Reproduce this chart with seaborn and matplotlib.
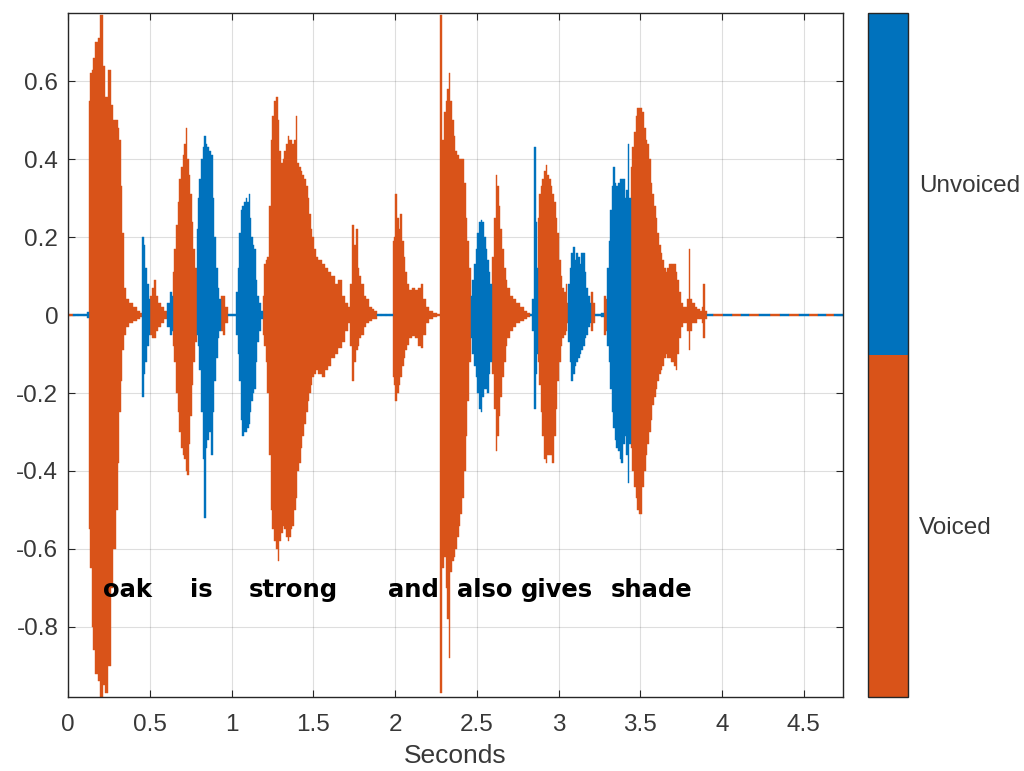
import numpy as np
import matplotlib
matplotlib.use("Agg")
import matplotlib as mpl
import matplotlib.pyplot as plt
from matplotlib.colors import ListedColormap, Normalize
import seaborn as sns

# envelope of the waveform: (seconds, upper peak, lower peak)
lead_v = [(0.000, 0.002, -0.002), (0.020, 0.002, -0.002)]
lead_u = [(0.045, 0.002, -0.002), (0.080, 0.002, -0.002), (0.110, 0.003, -0.003), (0.125, 0.008, -0.008)]
oak = [(0.133, 0.55, -0.55), (0.140, 0.62, -0.65), (0.150, 0.63, -0.80), (0.160, 0.66, -0.86),
       (0.175, 0.70, -0.92), (0.190, 0.71, -0.94), (0.205, 0.77, -0.98), (0.220, 0.64, -0.95),
       (0.237, 0.56, -0.97), (0.257, 0.63, -0.90), (0.270, 0.54, -0.70), (0.285, 0.50, -0.60),
       (0.298, 0.50, -0.50), (0.308, 0.48, -0.38), (0.318, 0.45, -0.25), (0.328, 0.33, -0.17),
       (0.338, 0.21, -0.09), (0.349, 0.07, -0.05), (0.365, 0.04, -0.03), (0.385, 0.03, -0.02),
       (0.410, 0.02, -0.015), (0.435, 0.01, -0.01), (0.450, 0.006, -0.006)]
oak_k = [(0.458, 0.20, -0.21), (0.468, 0.18, -0.15), (0.478, 0.12, -0.12), (0.490, 0.08, -0.08),
         (0.500, 0.04, -0.05)]
oak_tail = [(0.508, 0.05, -0.05), (0.520, 0.07, -0.06), (0.532, 0.09, -0.06), (0.545, 0.05, -0.04),
            (0.560, 0.03, -0.03), (0.580, 0.02, -0.02), (0.600, 0.01, -0.01)]
is_onset = [(0.615, 0.03, -0.03), (0.630, 0.06, -0.05), (0.640, 0.05, -0.04)]
is_vowel = [(0.645, 0.11, -0.08), (0.655, 0.17, -0.12), (0.665, 0.23, -0.20), (0.675, 0.29, -0.25),
            (0.686, 0.35, -0.30), (0.696, 0.38, -0.34), (0.706, 0.41, -0.36), (0.716, 0.44, -0.37),
            (0.724, 0.48, -0.40), (0.732, 0.40, -0.41), (0.742, 0.36, -0.33), (0.752, 0.31, -0.26),
            (0.762, 0.24, -0.18), (0.772, 0.17, -0.12), (0.782, 0.12, -0.07)]
is_s = [(0.790, 0.22, -0.05), (0.797, 0.30, -0.08), (0.807, 0.35, -0.14), (0.818, 0.40, -0.25),
        (0.828, 0.43, -0.37), (0.838, 0.46, -0.52), (0.848, 0.44, -0.34), (0.858, 0.43, -0.32),
        (0.869, 0.42, -0.30), (0.879, 0.41, -0.36), (0.889, 0.30, -0.25), (0.899, 0.20, -0.17),
        (0.909, 0.12, -0.11), (0.920, 0.07, -0.06), (0.930, 0.04, -0.04)]
is_tail = [(0.940, 0.05, -0.04), (0.955, 0.05, -0.05), (0.968, 0.02, -0.02)]
gap_1 = [(0.985, 0.002, -0.002), (1.010, 0.002, -0.002), (1.025, 0.003, -0.003)]
strong_st = [(1.035, 0.06, -0.05), (1.042, 0.12, -0.10), (1.052, 0.21, -0.17), (1.062, 0.27, -0.27),
             (1.072, 0.28, -0.31), (1.083, 0.29, -0.30), (1.093, 0.30, -0.30), (1.101, 0.29, -0.29),
             (1.109, 0.31, -0.28), (1.116, 0.25, -0.25), (1.123, 0.20, -0.22), (1.134, 0.18, -0.20),
             (1.144, 0.17, -0.19), (1.154, 0.09, -0.12), (1.164, 0.05, -0.07), (1.174, 0.03, -0.04),
             (1.185, 0.01, -0.01)]
strong_vowel = [(1.195, 0.05, -0.05), (1.205, 0.13, -0.08), (1.215, 0.14, -0.12), (1.225, 0.15, -0.20),
                (1.235, 0.28, -0.36), (1.245, 0.45, -0.50), (1.255, 0.51, -0.55), (1.266, 0.55, -0.58),
                (1.276, 0.56, -0.60), (1.287, 0.50, -0.63), (1.297, 0.42, -0.58), (1.307, 0.39, -0.56),
                (1.317, 0.40, -0.54), (1.327, 0.42, -0.55), (1.337, 0.44, -0.57), (1.348, 0.46, -0.58),
                (1.358, 0.45, -0.57), (1.368, 0.45, -0.55), (1.378, 0.44, -0.54), (1.388, 0.45, -0.50),
                (1.396, 0.51, -0.47), (1.409, 0.39, -0.40), (1.419, 0.38, -0.38), (1.429, 0.37, -0.34),
                (1.439, 0.36, -0.31), (1.450, 0.35, -0.28), (1.460, 0.33, -0.25), (1.470, 0.30, -0.22),
                (1.480, 0.26, -0.20), (1.490, 0.22, -0.18), (1.500, 0.20, -0.16), (1.510, 0.17, -0.15),
                (1.521, 0.15, -0.14), (1.540, 0.14, -0.15), (1.562, 0.13, -0.16), (1.580, 0.12, -0.14),
                (1.600, 0.11, -0.13), (1.623, 0.10, -0.11), (1.643, 0.08, -0.10), (1.664, 0.09, -0.085),
                (1.684, 0.05, -0.07), (1.704, 0.03, -0.04), (1.720, 0.02, -0.02), (1.735, 0.08, -0.08),
                (1.745, 0.23, -0.17), (1.755, 0.18, -0.12), (1.766, 0.22, -0.09), (1.776, 0.12, -0.08),
                (1.786, 0.10, -0.06), (1.800, 0.08, -0.05), (1.815, 0.05, -0.03), (1.830, 0.04, -0.02),
                (1.850, 0.02, -0.015), (1.867, 0.015, -0.01), (1.880, 0.01, -0.01)]
gap_2 = [(1.900, 0.002, -0.002), (1.930, 0.002, -0.002), (1.960, 0.002, -0.002), (1.982, 0.003, -0.003)]
and_word = [(1.990, 0.19, -0.16), (1.998, 0.20, -0.18), (2.008, 0.31, -0.22), (2.018, 0.25, -0.20),
            (2.028, 0.22, -0.18), (2.039, 0.26, -0.16), (2.049, 0.19, -0.13), (2.059, 0.15, -0.11),
            (2.069, 0.11, -0.09), (2.079, 0.08, -0.077), (2.095, 0.065, -0.06), (2.110, 0.07, -0.055),
            (2.130, 0.065, -0.06), (2.150, 0.07, -0.08), (2.165, 0.08, -0.085), (2.180, 0.04, -0.05),
            (2.200, 0.02, -0.02), (2.220, 0.01, -0.01), (2.245, 0.004, -0.004), (2.265, 0.003, -0.003)]
also_a = [(2.283, 0.77, -0.97), (2.293, 0.45, -0.65), (2.304, 0.52, -0.62), (2.314, 0.55, -0.70),
          (2.324, 0.58, -0.78), (2.334, 0.62, -0.88), (2.344, 0.55, -0.66), (2.355, 0.50, -0.63),
          (2.365, 0.46, -0.62), (2.375, 0.42, -0.60), (2.385, 0.41, -0.57), (2.395, 0.40, -0.54),
          (2.405, 0.40, -0.51), (2.418, 0.40, -0.47), (2.428, 0.34, -0.40), (2.438, 0.25, -0.31),
          (2.448, 0.19, -0.22), (2.458, 0.12, -0.12)]
also_ls = [(2.468, 0.05, -0.06), (2.478, 0.09, -0.10), (2.488, 0.13, -0.13), (2.498, 0.17, -0.16),
           (2.508, 0.21, -0.20), (2.518, 0.24, -0.24), (2.528, 0.245, -0.25), (2.538, 0.24, -0.21),
           (2.548, 0.20, -0.19), (2.559, 0.17, -0.19), (2.569, 0.14, -0.20), (2.579, 0.11, -0.15),
           (2.589, 0.08, -0.12)]
also_o = [(2.599, 0.15, -0.15), (2.610, 0.25, -0.24), (2.620, 0.36, -0.35), (2.630, 0.33, -0.31),
          (2.640, 0.28, -0.26), (2.650, 0.22, -0.21), (2.660, 0.17, -0.16), (2.671, 0.12, -0.12),
          (2.681, 0.09, -0.08), (2.692, 0.07, -0.06), (2.710, 0.05, -0.04), (2.730, 0.04, -0.03),
          (2.752, 0.03, -0.02), (2.775, 0.02, -0.015), (2.800, 0.01, -0.01), (2.820, 0.005, -0.005)]
gives_g = [(2.835, 0.003, -0.003), (2.846, 0.04, -0.04), (2.856, 0.43, -0.24), (2.866, 0.24, -0.15),
           (2.874, 0.12, -0.10)]
gives_i = [(2.877, 0.25, -0.12), (2.887, 0.31, -0.18), (2.897, 0.33, -0.25), (2.907, 0.35, -0.31),
           (2.917, 0.37, -0.37), (2.927, 0.385, -0.38), (2.937, 0.36, -0.36), (2.948, 0.35, -0.36),
           (2.958, 0.33, -0.36), (2.968, 0.31, -0.38), (2.978, 0.29, -0.31), (2.988, 0.25, -0.24),
           (2.998, 0.21, -0.17), (3.008, 0.14, -0.12), (3.018, 0.10, -0.08), (3.028, 0.07, -0.06),
           (3.038, 0.06, -0.05), (3.048, 0.08, -0.04), (3.058, 0.03, -0.02)]
gives_vs = [(3.063, 0.08, -0.07), (3.073, 0.12, -0.12), (3.083, 0.16, -0.17), (3.093, 0.175, -0.15),
            (3.103, 0.14, -0.13), (3.113, 0.16, -0.12), (3.124, 0.15, -0.11), (3.134, 0.13, -0.10),
            (3.144, 0.16, -0.09), (3.154, 0.16, -0.08), (3.164, 0.11, -0.06), (3.175, 0.07, -0.05),
            (3.185, 0.05, -0.03), (3.195, 0.03, -0.02)]
gives_tail = [(3.205, 0.06, -0.04), (3.215, 0.03, -0.02)]
gap_3 = [(3.230, 0.003, -0.003), (3.250, 0.003, -0.003), (3.270, 0.004, -0.004)]
shade_on = [(3.285, 0.05, -0.05), (3.295, 0.04, -0.04)]
shade_sh = [(3.301, 0.12, -0.08), (3.311, 0.19, -0.12), (3.321, 0.27, -0.19), (3.331, 0.33, -0.25),
            (3.339, 0.38, -0.29), (3.349, 0.34, -0.32), (3.359, 0.33, -0.34), (3.369, 0.34, -0.35),
            (3.379, 0.35, -0.37), (3.389, 0.35, -0.38), (3.399, 0.35, -0.33), (3.409, 0.30, -0.31),
            (3.419, 0.32, -0.36), (3.427, 0.44, -0.43), (3.436, 0.30, -0.33)]
shade_ade = [(3.446, 0.38, -0.34), (3.456, 0.43, -0.40), (3.467, 0.47, -0.44), (3.478, 0.51, -0.47),
             (3.488, 0.53, -0.50), (3.498, 0.53, -0.51), (3.508, 0.53, -0.51), (3.518, 0.52, -0.44),
             (3.528, 0.48, -0.40), (3.539, 0.45, -0.36), (3.549, 0.44, -0.33), (3.559, 0.40, -0.30),
             (3.569, 0.34, -0.27), (3.580, 0.31, -0.23), (3.590, 0.28, -0.21), (3.600, 0.25, -0.19),
             (3.610, 0.21, -0.17), (3.620, 0.18, -0.15), (3.630, 0.16, -0.14), (3.641, 0.14, -0.13),
             (3.651, 0.12, -0.11), (3.661, 0.11, -0.10), (3.671, 0.12, -0.11), (3.681, 0.13, -0.11),
             (3.691, 0.13, -0.12), (3.702, 0.13, -0.12), (3.712, 0.13, -0.13), (3.722, 0.11, -0.14),
             (3.732, 0.09, -0.10), (3.742, 0.06, -0.06), (3.752, 0.03, -0.03), (3.765, 0.02, -0.02),
             (3.780, 0.02, -0.02), (3.790, 0.04, -0.04), (3.801, 0.17, -0.09), (3.810, 0.04, -0.04),
             (3.825, 0.03, -0.02), (3.840, 0.02, -0.02), (3.855, 0.015, -0.01), (3.870, 0.01, -0.01),
             (3.880, 0.02, -0.02), (3.889, 0.08, -0.06), (3.898, 0.01, -0.01)]
tail_v = [(3.978, 0.002, -0.002), (4.089, 0.002, -0.002), (4.190, 0.002, -0.002), (4.325, 0.002, -0.002),
          (4.436, 0.002, -0.002), (4.559, 0.002, -0.002), (4.660, 0.002, -0.002)]
tail_u = [(3.915, 0.002, -0.002), (4.030, 0.002, -0.002), (4.140, 0.002, -0.002), (4.260, 0.002, -0.002),
          (4.380, 0.002, -0.002), (4.500, 0.002, -0.002), (4.610, 0.002, -0.002), (4.710, 0.002, -0.002)]

voiced_parts = [lead_v, oak, oak_tail, is_vowel, is_tail, strong_vowel, and_word, also_a,
                also_o, gives_i, gives_tail, shade_on, shade_ade, tail_v]
unvoiced_parts = [lead_u, oak_k, is_onset, is_s, gap_1, strong_st, gap_2, also_ls,
                  gives_g, gives_vs, gap_3, shade_sh, tail_u]

words = ["oak", "is", "strong", "and", "also", "gives", "shade"]
word_start = [0.214, 0.746, 1.107, 1.957, 2.379, 2.771, 3.321]
word_level = -0.705

x_ticks = [0, 0.5, 1, 1.5, 2, 2.5, 3, 3.5, 4, 4.5]
y_ticks = [-0.8, -0.6, -0.4, -0.2, 0, 0.2, 0.4, 0.6]
x_range = (0, 4.74)
y_range = (-0.98, 0.775)
class_names = ["Voiced", "Unvoiced"]

voiced_color = "#D95319"
unvoiced_color = "#0072BD"
ink = "#262626"
label_ink = "#383838"

sns.set_theme(style="white")
plt.rcParams['font.family'] = ['Liberation Sans', 'DejaVu Sans']
plt.rcParams['axes.unicode_minus'] = False

# one flat table, sorted in time, so every sample gets its own slice of the axis
rows = [(t, hi, lo, 1) for part in voiced_parts for (t, hi, lo) in part]
rows += [(t, hi, lo, 0) for part in unvoiced_parts for (t, hi, lo) in part]
rows.sort()
tt = np.array([r[0] for r in rows])
hi = np.array([r[1] for r in rows])
lo = np.array([r[2] for r in rows])
is_voiced = np.array([r[3] for r in rows]) == 1

edges = np.concatenate([[x_range[0]], (tt[1:] + tt[:-1]) / 2, [x_range[1]]])
left = edges[:-1]
width = np.diff(edges)

fig = plt.figure(figsize=(10.24, 7.71), dpi=100)
ax = fig.add_axes([68 / 1024, 74 / 771, 775 / 1024, 684 / 771])

for mask, color in [(is_voiced, voiced_color), (~is_voiced, unvoiced_color)]:
    ax.bar(left[mask], hi[mask] - lo[mask], bottom=lo[mask], width=width[mask],
           align='edge', color=color, edgecolor=color, linewidth=0.3)

for w, x0 in zip(words, word_start):
    ax.text(x0, word_level, w, ha='left', va='center', fontsize=17.5,
            fontweight='bold', family='DejaVu Sans', color='black')

ax.set_xlim(*x_range)
ax.set_ylim(*y_range)
ax.set_xticks(x_ticks)
ax.set_xticklabels([f"{v:g}" for v in x_ticks])
ax.set_yticks(y_ticks)
ax.set_yticklabels([f"{v:g}" for v in y_ticks])
ax.set_xlabel("Seconds", fontsize=19, color=label_ink, labelpad=6)

ax.set_axisbelow(True)
ax.grid(True, color=ink, alpha=0.15, linewidth=0.8)
ax.tick_params(axis='both', direction='in', length=5, width=0.8, color=ink,
               labelcolor=label_ink, labelsize=17.5, top=True, right=True,
               bottom=True, left=True)
ax.tick_params(axis='x', pad=12)
ax.tick_params(axis='y', pad=7)
for s in ax.spines.values():
    s.set_color(ink)
    s.set_linewidth(1.0)

# two-colour bar for the voicing classes
cax = fig.add_axes([868 / 1024, 74 / 771, 40 / 1024, 684 / 771])
cb = mpl.colorbar.ColorbarBase(cax, cmap=ListedColormap([voiced_color, unvoiced_color]),
                               norm=Normalize(0, 1), ticks=[0.25, 0.75])
cb.set_ticklabels(class_names)
cax.tick_params(length=0, labelsize=17.5, labelcolor=label_ink, pad=8)
cb.outline.set_edgecolor(ink)
cb.outline.set_linewidth(1.0)

fig.savefig("out.png", dpi=100)
